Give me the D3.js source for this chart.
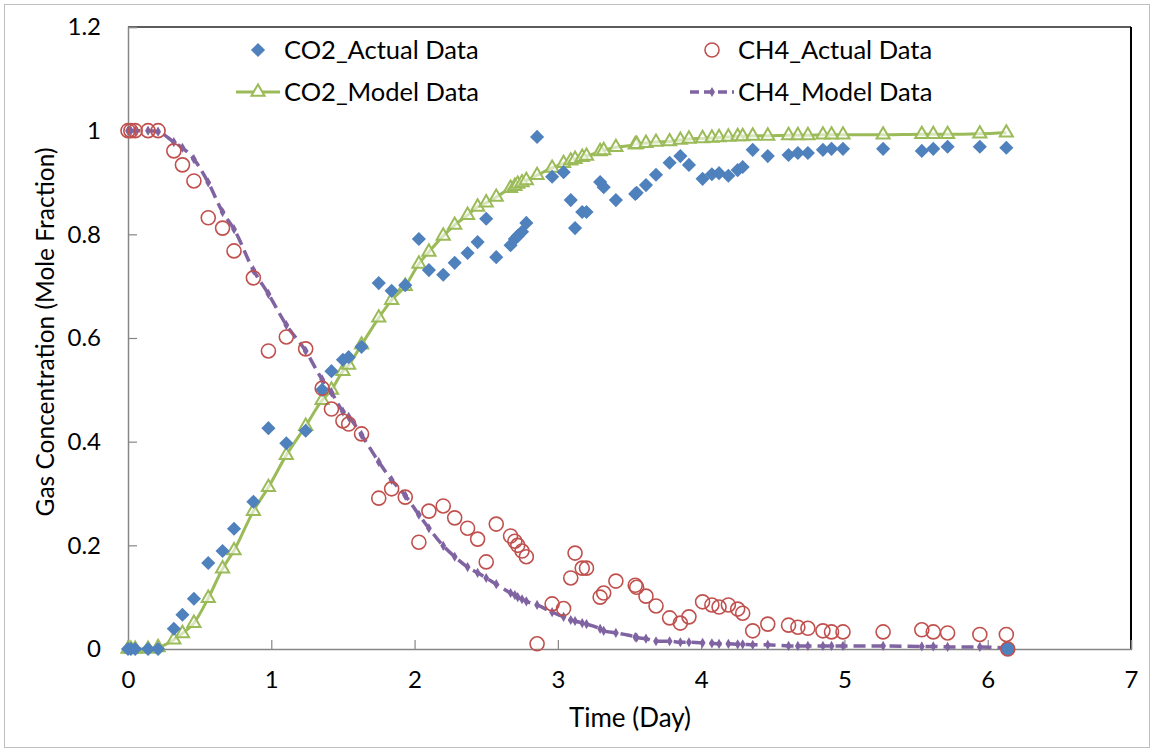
<!DOCTYPE html>
<html>
<head>
<meta charset="utf-8">
<script src="https://cdn.jsdelivr.net/npm/d3@7"></script>
<style>
  body { margin: 0; background: #fff; }
  svg text { font-family: Lato, "Open Sans", sans-serif; fill: #000; }
</style>
</head>
<body>
<div id="chart"></div>
<script>
const width = 1154;
const height = 752;

// sampling times (day), shared by all four series
const days = [0, 0.02, 0.05, 0.14, 0.21, 0.32, 0.38, 0.46, 0.56, 0.66,
  0.74, 0.875, 0.98, 1.105, 1.24, 1.355, 1.42, 1.50, 1.54, 1.63,
  1.75, 1.84, 1.935, 2.03, 2.10, 2.20, 2.28, 2.37, 2.44, 2.50,
  2.57, 2.67, 2.70, 2.72, 2.75, 2.78, 2.855, 2.96, 3.04, 3.09,
  3.12, 3.17, 3.20, 3.295, 3.32, 3.405, 3.54, 3.55, 3.615, 3.685,
  3.78, 3.855, 3.915, 4.01, 4.075, 4.125, 4.19, 4.255, 4.29, 4.36,
  4.465, 4.61, 4.675, 4.745, 4.85, 4.91, 4.99, 5.27, 5.54, 5.62,
  5.72, 5.945, 6.13];

const co2Actual = [0, 0, 0, 0, 0, 0.039, 0.066, 0.097, 0.166, 0.189,
  0.232, 0.284, 0.426, 0.397, 0.421, 0.50, 0.536, 0.558, 0.563, 0.583,
  0.706, 0.691, 0.702, 0.791, 0.731, 0.722, 0.745, 0.764, 0.785, 0.83,
  0.756, 0.779, 0.791, 0.797, 0.805, 0.822, 0.988, 0.911, 0.92, 0.866,
  0.812, 0.843, 0.843, 0.901, 0.891, 0.866, 0.878, 0.88, 0.895, 0.915,
  0.938, 0.951, 0.934, 0.907, 0.916, 0.918, 0.913, 0.924, 0.93, 0.963,
  0.951, 0.953, 0.957, 0.957, 0.963, 0.965, 0.965, 0.965, 0.961, 0.965,
  0.969, 0.969, 0.967];

const ch4Actual = [1, 1, 1, 1, 1, 0.961, 0.934, 0.903, 0.832, 0.812,
  0.768, 0.716, 0.575, 0.602, 0.579, 0.503, 0.463, 0.44, 0.434, 0.415,
  0.291, 0.309, 0.293, 0.206, 0.266, 0.276, 0.253, 0.233, 0.212, 0.168,
  0.241, 0.218, 0.208, 0.2, 0.189, 0.178, 0.01, 0.087, 0.078, 0.137,
  0.185, 0.156, 0.156, 0.10, 0.108, 0.131, 0.123, 0.119, 0.102, 0.083,
  0.060, 0.050, 0.062, 0.091, 0.085, 0.081, 0.085, 0.077, 0.069, 0.035,
  0.048, 0.046, 0.042, 0.04, 0.035, 0.033, 0.033, 0.033, 0.037, 0.033,
  0.031, 0.028, 0.028];

const co2Model = [0, 0, 0, 0, 0.003, 0.018, 0.03, 0.05, 0.098, 0.155,
  0.19, 0.266, 0.312, 0.374, 0.43, 0.48, 0.50, 0.536, 0.548, 0.587,
  0.639, 0.673, 0.70, 0.743, 0.766, 0.797, 0.818, 0.837, 0.853, 0.861,
  0.872, 0.889, 0.893, 0.897, 0.90, 0.904, 0.914, 0.928, 0.937, 0.942,
  0.945, 0.949, 0.951, 0.96, 0.962, 0.968, 0.973, 0.974, 0.976, 0.978,
  0.979, 0.982, 0.984, 0.985, 0.986, 0.987, 0.988, 0.989, 0.989, 0.99,
  0.99, 0.991, 0.991, 0.991, 0.992, 0.992, 0.992, 0.992, 0.993, 0.993,
  0.993, 0.994, 0.996];

const ch4Model = [1, 1, 1, 1, 0.998, 0.978, 0.967, 0.945, 0.90, 0.843,
  0.81, 0.731, 0.685, 0.625, 0.575, 0.52, 0.495, 0.458, 0.448, 0.413,
  0.361, 0.326, 0.296, 0.259, 0.233, 0.199, 0.178, 0.158, 0.147, 0.137,
  0.125, 0.108, 0.104, 0.100, 0.096, 0.092, 0.085, 0.071, 0.062, 0.056,
  0.054, 0.05, 0.048, 0.039, 0.035, 0.031, 0.023, 0.022, 0.02, 0.015,
  0.015, 0.013, 0.013, 0.012, 0.011, 0.01, 0.01, 0.009, 0.009, 0.008,
  0.008, 0.006, 0.006, 0.006, 0.006, 0.006, 0.006, 0.006, 0.005, 0.005,
  0.004, 0.004, 0.002];

// one extra CH4 reading at the very end that sits on zero
const ch4EndDays = [6.14];
const ch4EndValues = [0];

const xTicks = [0, 1, 2, 3, 4, 5, 6, 7];
const yTicks = [0, 0.2, 0.4, 0.6, 0.8, 1, 1.2];

const legendNames = ["CO2_Actual Data", "CH4_Actual Data", "CO2_Model Data", "CH4_Model Data"];

const colors = {
  co2Actual: "#4f81bd",
  ch4Actual: "#c0504d",
  co2Model: "#9bbb59",
  ch4Model: "#8064a2"
};

const svg = d3.select("#chart")
  .append("svg")
  .attr("width", width)
  .attr("height", height);

svg.append("rect")
  .attr("x", 4.5)
  .attr("y", 4.5)
  .attr("width", 1145)
  .attr("height", 743)
  .attr("fill", "#fff")
  .attr("stroke", "#bfbfbf");

const x = d3.scaleLinear().domain([0, 7]).range([128, 1131]);
const y = d3.scaleLinear().domain([0, 1.2]).range([649, 27]);

// frame: top and right edges are dark
svg.append("line")
  .attr("x1", x(0)).attr("x2", x(7))
  .attr("y1", y(1.2)).attr("y2", y(1.2))
  .attr("stroke", "#262626").attr("stroke-width", 1.5);
svg.append("line")
  .attr("x1", x(7)).attr("x2", x(7))
  .attr("y1", y(1.2)).attr("y2", y(0))
  .attr("stroke", "#000").attr("stroke-width", 2);

const xAxis = svg.append("g")
  .attr("transform", `translate(0,${y(0)})`)
  .call(d3.axisBottom(x).tickValues(xTicks).tickSize(-9).tickPadding(22).tickFormat(d3.format("d")));

const yAxis = svg.append("g")
  .attr("transform", `translate(${x(0)},0)`)
  .call(d3.axisLeft(y).tickValues(yTicks).tickSize(-9).tickPadding(27).tickFormat(d => d3.format("~g")(d)));

[xAxis, yAxis].forEach(ax => {
  ax.select(".domain").attr("stroke", "#868686").attr("stroke-width", 1.5);
  ax.selectAll(".tick line").attr("stroke", "#868686").attr("stroke-width", 1.2);
  ax.selectAll(".tick text")
    .attr("font-size", 24)
    .attr("font-family", "Lato, sans-serif")
    .attr("fill", "#000");
});

svg.append("text")
  .attr("x", 630)
  .attr("y", 727)
  .attr("text-anchor", "middle")
  .attr("font-size", 26)
  .text("Time (Day)");

svg.append("text")
  .attr("transform", "translate(54,332) rotate(-90)")
  .attr("text-anchor", "middle")
  .attr("font-size", 24.5)
  .text("Gas Concentration (Mole Fraction)");

const plot = svg.append("g");

const co2Points = days.map((d, i) => [d, co2Model[i]]);
const ch4Points = days.map((d, i) => [d, ch4Model[i]]);

const line = d3.line()
  .x(d => x(d[0]))
  .y(d => y(d[1]))
  .curve(d3.curveMonotoneX);

plot.append("path")
  .datum(co2Points)
  .attr("d", line)
  .attr("fill", "none")
  .attr("stroke", colors.co2Model)
  .attr("stroke-width", 3);

const triangle = d3.symbol().type(d3.symbolTriangle).size(75);

plot.selectAll(".co2-model")
  .data(co2Points)
  .enter().append("path")
  .attr("class", "co2-model")
  .attr("transform", d => `translate(${x(d[0])},${y(d[1])})`)
  .attr("d", triangle)
  .attr("fill", "#fff")
  .attr("fill-opacity", 0.6)
  .attr("stroke", colors.co2Model)
  .attr("stroke-width", 2);

plot.append("path")
  .datum(ch4Points)
  .attr("d", line)
  .attr("fill", "none")
  .attr("stroke", colors.ch4Model)
  .attr("stroke-width", 3.5)
  .attr("stroke-dasharray", "12,6");

const smallDiamond = d3.symbol().type(d3.symbolDiamond).size(30);

plot.selectAll(".ch4-model")
  .data(ch4Points)
  .enter().append("path")
  .attr("class", "ch4-model")
  .attr("transform", d => `translate(${x(d[0])},${y(d[1])})`)
  .attr("d", smallDiamond)
  .attr("fill", colors.ch4Model);

const bigDiamond = d3.symbol().type(d3.symbolSquare).size(100);

plot.selectAll(".co2-actual")
  .data(days.map((d, i) => [d, co2Actual[i]]))
  .enter().append("path")
  .attr("class", "co2-actual")
  .attr("transform", d => `translate(${x(d[0])},${y(d[1])}) rotate(45)`)
  .attr("d", bigDiamond)
  .attr("fill", colors.co2Actual);

plot.selectAll(".ch4-actual")
  .data(days.map((d, i) => [d, ch4Actual[i]]))
  .enter().append("circle")
  .attr("class", "ch4-actual")
  .attr("cx", d => x(d[0]))
  .attr("cy", d => y(d[1]))
  .attr("r", 7)
  .attr("fill", "none")
  .attr("stroke", colors.ch4Actual)
  .attr("stroke-width", 1.6);

plot.selectAll(".ch4-end")
  .data(ch4EndDays.map((d, i) => [d, ch4EndValues[i]]))
  .enter().append("circle")
  .attr("class", "ch4-end")
  .attr("cx", d => x(d[0]))
  .attr("cy", d => y(d[1]))
  .attr("r", 7)
  .attr("fill", colors.co2Actual)
  .attr("stroke", colors.ch4Actual)
  .attr("stroke-width", 1.6);

// legend, two columns
const legend = svg.append("g");
const legendPos = [[258, 50], [712, 50], [258, 92], [712, 92]];

legendNames.forEach((name, i) => {
  const [lx, ly] = legendPos[i];
  const g = legend.append("g").attr("transform", `translate(${lx},${ly})`);
  if (i === 0) {
    g.append("path").attr("d", bigDiamond).attr("transform", "rotate(45)").attr("fill", colors.co2Actual);
  } else if (i === 1) {
    g.append("circle").attr("r", 7).attr("fill", "none")
      .attr("stroke", colors.ch4Actual).attr("stroke-width", 1.6);
  } else if (i === 2) {
    g.append("line").attr("x1", -22).attr("x2", 22)
      .attr("stroke", colors.co2Model).attr("stroke-width", 3);
    g.append("path").attr("d", triangle).attr("fill", "#fff")
      .attr("stroke", colors.co2Model).attr("stroke-width", 2);
  } else {
    g.append("line").attr("x1", -22).attr("x2", 22)
      .attr("stroke", colors.ch4Model).attr("stroke-width", 3.5)
      .attr("stroke-dasharray", "9,5");
    g.append("path").attr("d", smallDiamond).attr("fill", colors.ch4Model);
  }
  g.append("text")
    .attr("x", 26)
    .attr("y", 0)
    .attr("dy", "0.35em")
    .attr("font-size", 25.5)
    .text(name);
});
</script>
</body>
</html>
